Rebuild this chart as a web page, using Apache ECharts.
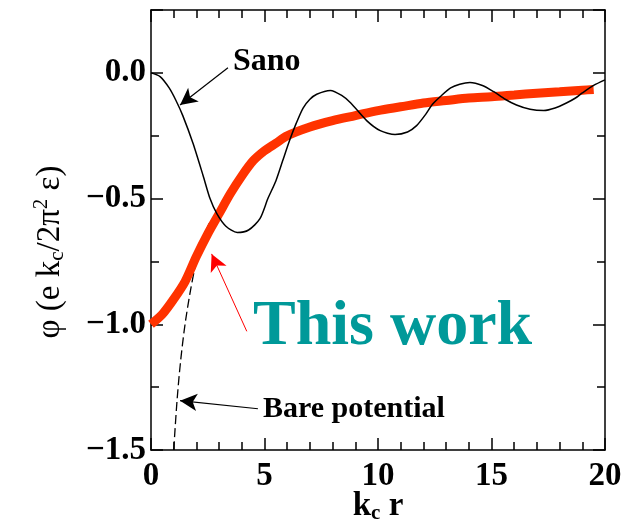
<!DOCTYPE html>
<html>
<head>
<meta charset="utf-8">
<script src="https://cdn.jsdelivr.net/npm/echarts@6/dist/echarts.min.js"></script>
<style>
  html, body { margin: 0; padding: 0; background: #fff; }
  #chart { width: 625px; height: 523px; }
</style>
</head>
<body>
<div id="chart"></div>
<script>
// Sano curve (thin black, oscillating)
var sanoR = [0, 0.4, 0.8, 1.1, 1.4, 1.85, 2.3, 2.6, 2.9, 3.3, 3.8, 4.3, 4.8, 5.15, 5.5, 5.8, 6.1, 6.4, 6.7, 7.0, 7.3, 7.9,
    8.4, 8.8, 9.5, 10.1, 10.75, 11.3, 11.7, 12.1, 12.4, 12.8, 13.2, 13.6, 14.05, 14.6, 15.1, 15.6, 16.1, 16.7, 17.3,
    17.8, 18.3, 18.7, 19.0, 19.5, 20.0]
var sanoPhi = [0, -0.015, -0.06, -0.11, -0.17, -0.28, -0.41, -0.5, -0.56, -0.61, -0.635, -0.625, -0.58, -0.5, -0.43,
    -0.35, -0.27, -0.2, -0.14, -0.105, -0.085, -0.07, -0.09, -0.12, -0.19, -0.23, -0.245, -0.235, -0.21, -0.165,
    -0.125, -0.09, -0.06, -0.045, -0.038, -0.05, -0.075, -0.105, -0.128, -0.145, -0.15, -0.14, -0.12, -0.1, -0.08,
    -0.05, -0.028]

// "This work" (thick red)
var workR = [0, 0.5, 1.0, 1.5, 2.0, 2.5, 3.0, 3.5, 4.0, 4.5, 5.0, 5.5, 6.0, 7.0, 8.0, 9.0, 10, 11, 12, 13, 14, 15, 16, 17, 18, 19, 19.5]
var workPhi = [-1.0, -0.96, -0.9, -0.83, -0.73, -0.64, -0.56, -0.48, -0.41, -0.35, -0.31, -0.28, -0.25, -0.215, -0.19,
    -0.17, -0.15, -0.135, -0.12, -0.11, -0.1, -0.095, -0.088, -0.081, -0.075, -0.069, -0.066]

// Bare potential (dashed, only the part not hidden by the red curve)
var bareR = [1.0, 1.15, 1.3, 1.5, 1.75, 2.0, 2.3, 2.6]
var barePhi = [-1.5, -1.3, -1.15, -1.0, -0.86, -0.75, -0.66, -0.59]

// axis ticks
var xTicks = [0, 5, 10, 15, 20]
var yTicks = [-1.5, -1.0, -0.5, 0.0]

// annotation arrows: [tail, head] in data units
var sanoArrow = [[3.39, 0.02], [1.28, -0.128]]
var bareArrow = [[4.71, -1.336], [1.28, -1.304]]
var workArrow = [[4.22, -1.028], [2.67, -0.72]]

function zip(a, b) {
    return a.map(function (v, i) { return [v, b[i]] })
}

var FONT = '"Liberation Serif", "Times New Roman", serif'
var RED = '#ff3300'

function yLabel(v) {
    for (var i = 0; i < yTicks.length; i++) {
        if (Math.abs(yTicks[i] - v) < 1e-6) return v.toFixed(1).replace('-', '\u2212')
    }
    return ''
}
function xLabel(v) {
    return xTicks.indexOf(v) >= 0 ? String(v) : ''
}

function xAx(pos, showLabel) {
    return {
        type: 'value', position: pos, min: 0, max: 20, interval: 5,
        axisLine: { show: true, onZero: false, lineStyle: { color: '#000', width: 1.5 } },
        axisTick: { show: true, inside: true, length: 12, lineStyle: { color: '#000', width: 1.5 } },
        minorTick: { show: true, splitNumber: 5, length: 8, lineStyle: { color: '#000', width: 1.5 } },
        splitLine: { show: false },
        axisLabel: {
            show: showLabel, margin: 10, formatter: xLabel,
            fontFamily: FONT, fontWeight: 'bold', fontSize: 33, color: '#000'
        }
    }
}
function yAx(pos, showLabel) {
    return {
        type: 'value', position: pos, min: -1.5, max: 0.25, interval: 0.5,
        axisLine: { show: true, onZero: false, lineStyle: { color: '#000', width: 1.5 } },
        axisTick: { show: true, inside: true, length: 12, lineStyle: { color: '#000', width: 1.5 } },
        minorTick: { show: true, splitNumber: 2, length: 8, lineStyle: { color: '#000', width: 1.5 } },
        splitLine: { show: false },
        axisLabel: {
            show: showLabel, margin: 5, formatter: yLabel,
            fontFamily: FONT, fontWeight: 'bold', fontSize: 33, color: '#000'
        }
    }
}

function arrowItem(pair, color, width) {
    return [
        { coord: pair[0], symbol: 'none', lineStyle: { color: color, width: width, type: 'solid' } },
        { coord: pair[1], symbol: 'arrow', symbolSize: [13, 17], itemStyle: { color: color } }
    ]
}

var chart = echarts.init(document.getElementById('chart'))

var option = {
    animation: false,
    backgroundColor: '#fff',
    grid: { left: 151, right: 20, top: 10, bottom: 73, containLabel: false },
    xAxis: [xAx('bottom', true), xAx('top', false)],
    yAxis: [yAx('left', true), yAx('right', false)],
    series: [
        {
            name: 'Bare potential', type: 'line', data: zip(bareR, barePhi),
            showSymbol: false, smooth: 0.3, z: 2,
            lineStyle: { color: '#000', width: 1.3, type: [9, 4] }
        },
        {
            name: 'This work', type: 'line', data: zip(workR, workPhi),
            showSymbol: false, smooth: 0.3, z: 3,
            lineStyle: { color: RED, width: 9, cap: 'butt' },
            markLine: {
                silent: true, label: { show: false }, symbol: ['none', 'arrow'],
                data: [arrowItem(workArrow, '#ff0000', 1)]
            }
        },
        {
            name: 'Sano', type: 'line', data: zip(sanoR, sanoPhi),
            showSymbol: false, smooth: 0.25, z: 4,
            lineStyle: { color: '#000', width: 1.5 },
            markLine: {
                silent: true, label: { show: false }, symbol: ['none', 'arrow'],
                data: [arrowItem(sanoArrow, '#000', 1.2), arrowItem(bareArrow, '#000', 1.2)]
            }
        }
    ],
    graphic: [
        {
            type: 'text', x: 233, y: 62,
            style: { text: 'Sano', font: 'bold 32px ' + FONT, fill: '#000', align: 'left', verticalAlign: 'middle' }
        },
        {
            type: 'text', x: 263, y: 409,
            style: { text: 'Bare potential', font: 'bold 30px ' + FONT, fill: '#000', align: 'left', verticalAlign: 'middle' }
        },
        {
            type: 'text', x: 253, y: 327,
            style: { text: 'This work', font: 'bold 64px ' + FONT, fill: '#009999', align: 'left', verticalAlign: 'middle' }
        },
        {
            type: 'text', x: 378, y: 506,
            style: {
                text: '{b|k}{s|c}{b| r}', align: 'center', verticalAlign: 'middle',
                rich: {
                    b: { font: 'bold 33px ' + FONT, fill: '#000', lineHeight: 36, verticalAlign: 'middle' },
                    s: { font: 'bold 21px ' + FONT, fill: '#000', lineHeight: 36, verticalAlign: 'bottom', padding: [14, 0, 0, 0] }
                }
            }
        },
        {
            type: 'text', x: 50, y: 252, rotation: Math.PI / 2,
            style: {
                text: '{n|\u03c6 (e k}{s|c}{n|/2\u03c0}{p|2}{n| \u03b5)}', align: 'center', verticalAlign: 'middle',
                rich: {
                    n: { font: '33px ' + FONT, fill: '#000', lineHeight: 38 },
                    s: { font: '21px ' + FONT, fill: '#000', lineHeight: 38, padding: [15, 0, 0, 0] },
                    p: { font: '21px ' + FONT, fill: '#000', lineHeight: 38, padding: [0, 0, 17, 0] }
                }
            }
        }
    ]
}

chart.setOption(option)
</script>
</body>
</html>
